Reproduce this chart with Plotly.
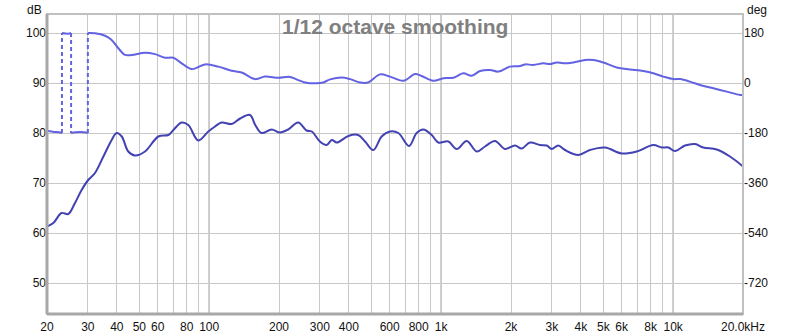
import plotly.graph_objects as go

# ---- data ----
mag_freq = [20, 21.3, 23.1, 24.7, 26.4, 28.2, 30.1, 32.2, 35, 38,
            39.9, 42, 44.8, 47.9, 52.9, 60.4, 66.7, 70.1, 76.1, 81.3,
            89.8, 99.2, 106, 113, 125, 136, 150, 158, 168, 186,
            202, 219, 242, 263, 277, 300, 321, 338, 355, 398,
            439, 470, 510, 554, 602, 654, 727, 784, 838, 911,
            972, 1073, 1167, 1289, 1423, 1545, 1706, 1884, 2081, 2224,
            2415, 2667, 2851, 2995, 3198, 3418, 3902, 4380, 5084, 6002,
            6966, 8212, 8928, 9528, 10184, 11246, 12420, 13490, 15408, 17580,
            20000]
mag_db = [61.3, 62, 64, 63.8, 66, 68.6, 70.6, 72, 75.3, 78.6,
          80, 79.3, 76.3, 75.5, 76.3, 79.3, 79.6, 80.6, 82.1, 81.6,
          78.5, 80.3, 81.3, 82.1, 81.8, 82.9, 83.6, 81.6, 80, 80.7,
          80.1, 80.7, 82.1, 80.5, 80.3, 78.3, 77.6, 78.6, 78.1, 79.4,
          79.6, 78.3, 76.6, 79.3, 80.3, 80, 77.4, 80, 80.7, 79.6,
          78.1, 78.3, 76.8, 78.4, 76.3, 77.3, 78.4, 76.8, 77.5, 76.9,
          78.1, 77.6, 77.5, 76.8, 77.5, 76.6, 75.6, 76.6, 77.1, 75.9,
          76.3, 77.6, 77.1, 77.1, 76.4, 77.5, 77.8, 77.1, 76.7, 75.3,
          73.3]

phase_freq = [20, 21.5, 22.5, 23.2, 23.2, 24, 25, 25.4, 25.4, 26.5,
              28, 29.5, 30, 30, 32.2, 35.6, 38, 40.6, 43.4, 46.4,
              52.9, 58.4, 64.5, 70.1, 76.1, 84.1, 95.9, 109.5, 125, 138,
              158, 174, 199, 223, 238, 259, 291, 310, 332, 373,
              405, 447, 485, 545, 602, 687, 772, 824, 925, 1022,
              1128, 1246, 1354, 1471, 1624, 1763, 1980, 2187, 2298, 2496,
              2757, 2946, 3148, 3360, 3711, 4169, 4526, 4998, 5710, 6516,
              7436, 8212, 9070, 10018, 10704, 11820, 13054, 14894, 17014, 19410,
              20000]
phase_deg = [-172, -176, -177, -180, 180, 178, 178, 180, -180, -177,
             -176, -178, -180, 180, 179, 170, 155, 125, 101, 101,
             109, 104, 91, 91, 71, 50, 67, 59, 44, 38,
             14, 23, 19, 22, 13, 2, -1, 2, 13, 20,
             14, 2, 2, 31, 23, 8, 32, 25, 8, 17,
             19, 35, 26, 43, 47, 41, 59, 61, 67, 65,
             71, 68, 74, 71, 74, 83, 83, 74, 56, 49,
             43, 35, 23, 14, 14, 5, -7, -19, -31, -43,
             -43]

x_tick_vals = [20, 30, 40, 50, 60, 70, 80, 90, 100,
               200, 300, 400, 500, 600, 700, 800, 900, 1000,
               2000, 3000, 4000, 5000, 6000, 7000, 8000, 9000, 10000, 20000]
x_tick_text = ["20", "30", "40", "50", "60", "", "80", "", "100",
               "200", "300", "400", "", "600", "", "800", "", "1k",
               "2k", "3k", "4k", "5k", "6k", "", "8k", "", "10k", "20.0kHz"]
x_major = [100, 1000, 10000]
db_ticks = [50, 60, 70, 80, 90, 100]
deg_ticks = [-720, -540, -360, -180, 0, 180]
deg_tick_text = ["-720", "-540", "-360", "-180", "0", "180"]

MAG_COLOR = "rgb(66,66,178)"
PH_COLOR = "rgb(98,98,226)"
FONT = "Liberation Sans"

fig = go.Figure()

# phase: split at wraps, connect wraps with dashed lines
seg_x, seg_y = [phase_freq[0]], [phase_deg[0]]
for i in range(1, len(phase_freq)):
    if abs(phase_deg[i] - phase_deg[i - 1]) > 180:
        fig.add_trace(go.Scatter(x=seg_x, y=seg_y, mode="lines", yaxis="y2",
                                 line=dict(color=PH_COLOR, width=2, shape="spline"),
                                 hoverinfo="skip", showlegend=False))
        fig.add_trace(go.Scatter(x=[phase_freq[i - 1], phase_freq[i]],
                                 y=[phase_deg[i - 1], phase_deg[i]],
                                 mode="lines", yaxis="y2",
                                 line=dict(color=PH_COLOR, width=2, dash="4px,3px"),
                                 hoverinfo="skip", showlegend=False))
        seg_x, seg_y = [], []
    seg_x.append(phase_freq[i])
    seg_y.append(phase_deg[i])
fig.add_trace(go.Scatter(x=seg_x, y=seg_y, mode="lines", yaxis="y2",
                         line=dict(color=PH_COLOR, width=2, shape="spline"),
                         hoverinfo="skip", showlegend=False))

fig.add_trace(go.Scatter(x=mag_freq, y=mag_db, mode="lines", yaxis="y",
                         line=dict(color=MAG_COLOR, width=2, shape="spline"),
                         hoverinfo="skip", showlegend=False))

shapes = []
for xv in x_major:
    shapes.append(dict(type="line", xref="x", yref="paper", x0=xv, x1=xv, y0=0, y1=1,
                       line=dict(color="#7a7a7a", width=1), layer="below"))
# frame
shapes.append(dict(type="rect", xref="paper", yref="paper", x0=0, x1=1, y0=0, y1=1,
                   line=dict(color="#c0c0c0", width=2)))
shapes.append(dict(type="line", xref="paper", yref="paper", x0=0, x1=0, y0=0, y1=1,
                   line=dict(color="#a8a8a8", width=3)))
shapes.append(dict(type="line", xref="paper", yref="paper", x0=0, x1=1, y0=0, y1=0,
                   line=dict(color="#a8a8a8", width=3)))

fig.update_layout(
    width=800, height=335, autosize=False,
    margin=dict(l=47, r=57, t=14, b=21, pad=0, autoexpand=False),
    paper_bgcolor="white", plot_bgcolor="white",
    font=dict(family=FONT, size=12, color="#111111"),
    shapes=shapes,
    xaxis=dict(type="log", range=[1.30103, 4.30103], automargin=False,
               tickmode="array", tickvals=x_tick_vals, ticktext=x_tick_text,
               showgrid=True, gridcolor="#c8c8c8", gridwidth=1,
               ticks="outside", ticklen=2, tickcolor="rgba(0,0,0,0)",
               zeroline=False, showline=False,
               tickfont=dict(family=FONT, size=12, color="#111111")),
    yaxis=dict(range=[43.8, 103.8], tickmode="array", tickvals=db_ticks, automargin=False,
               showgrid=True, gridcolor="#c8c8c8", gridwidth=1,
               ticks="", zeroline=False, showline=False,
               tickfont=dict(family=FONT, size=12, color="#111111")),
    yaxis2=dict(range=[-831.6, 248.4], overlaying="y", side="right", automargin=False,
                tickmode="array", tickvals=deg_ticks, ticktext=deg_tick_text,
                showgrid=False, ticks="", zeroline=False, showline=False,
                tickfont=dict(family=FONT, size=12, color="#111111")),
    annotations=[
        dict(text="1/12 octave smoothing", xref="paper", yref="paper",
             x=0.5, y=0.958, xanchor="center", yanchor="middle", showarrow=False,
             font=dict(family=FONT, size=21, color="#808080", weight="bold")),
        dict(text="dB", xref="paper", yref="paper", x=-0.005, y=1.0433,
             xanchor="right", yanchor="top", showarrow=False,
             font=dict(family=FONT, size=12, color="#111111")),
        dict(text="deg", xref="paper", yref="paper", x=1.003, y=1.0433,
             xanchor="left", yanchor="top", showarrow=False,
             font=dict(family=FONT, size=12, color="#111111")),
    ],
)

fig.write_html("out.html",
               config={"displayModeBar": False, "responsive": False},
               post_script="document.body.style.margin='0';document.body.style.overflow='hidden';")
